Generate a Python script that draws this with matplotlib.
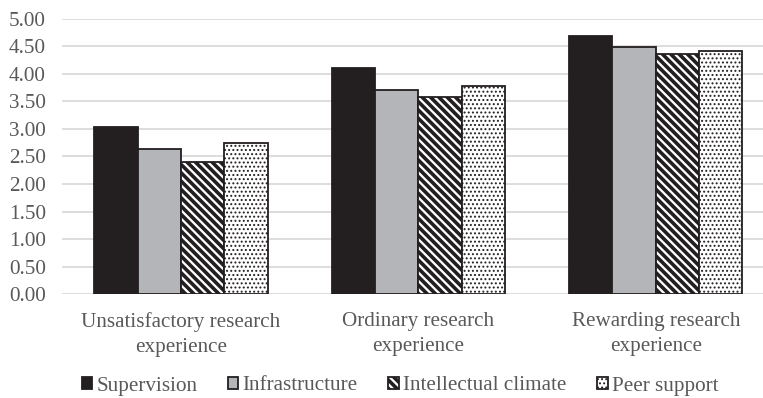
import matplotlib
matplotlib.use("Agg")
import matplotlib.pyplot as plt
import numpy as np

categories = ["Unsatisfactory research\nexperience",
              "Ordinary research\nexperience",
              "Rewarding research\nexperience"]
series_names = ["Supervision", "Infrastructure", "Intellectual climate", "Peer support"]
supervision = [3.04, 4.11, 4.68]
infrastructure = [2.63, 3.70, 4.48]
intellectual_climate = [2.39, 3.58, 4.35]
peer_support = [2.74, 3.78, 4.41]
y_ticks = [0.0, 0.5, 1.0, 1.5, 2.0, 2.5, 3.0, 3.5, 4.0, 4.5, 5.0]

plt.rcParams["font.family"] = ["Liberation Serif", "DejaVu Serif"]
plt.rcParams["hatch.color"] = "#231f20"

text_color = "#595959"
edge = "#231f20"
fs = 15.2

fig = plt.figure(figsize=(7.63, 3.98), dpi=100)
ax = fig.add_axes([62.3 / 763, 103.7 / 398, 712.2 / 763, 275.8 / 398])

styles = [
    dict(facecolor="#231f20", edgecolor=edge, hatch=None),
    dict(facecolor="#b4b5b8", edgecolor=edge, hatch=None),
    dict(facecolor="white", edgecolor=edge, hatch="\\\\\\\\"),
    dict(facecolor="white", edgecolor=edge, hatch="...."),
]
hatch_lw = [1.0, 1.0, 2.6, 0.9]
values = [supervision, infrastructure, intellectual_climate, peer_support]
x = np.arange(len(categories))
w = 0.1826
for i, (name, vals, st) in enumerate(zip(series_names, values, styles)):
    plt.rcParams["hatch.linewidth"] = hatch_lw[i]
    bars = ax.bar(x + (i - 1.5) * w, vals, width=w, label=name, linewidth=1.3,
                  zorder=3, **st)
    for b in bars:
        if hasattr(b, "set_hatch_linewidth"):
            b.set_hatch_linewidth(hatch_lw[i])

ax.set_xlim(-0.5, 2.5)
ax.set_ylim(0, 5)
ax.set_yticks(y_ticks)
ax.set_yticklabels([f"{v:.2f}" for v in y_ticks])
ax.set_xticks(x)
ax.set_xticklabels(categories, linespacing=1.38)
ax.grid(axis="y", color="#dadada", linewidth=1.3, zorder=0)
ax.tick_params(axis="both", length=0, labelsize=fs, colors=text_color)
ax.tick_params(axis="y", pad=12)
ax.tick_params(axis="x", pad=13)
for s in ax.spines.values():
    s.set_visible(False)
ax.set_axisbelow(True)

leg = fig.legend(loc="center", bbox_to_anchor=(400 / 763, 1 - 386 / 398), ncol=4,
                 frameon=False, fontsize=fs, handlelength=0.5, handleheight=0.5,
                 handletextpad=0.2, columnspacing=1.45, labelcolor=text_color)
for i, patch in enumerate(leg.get_patches()):
    if hasattr(patch, "set_hatch_linewidth"):
        patch.set_hatch_linewidth(hatch_lw[i])

fig.savefig("out.png", dpi=100)
